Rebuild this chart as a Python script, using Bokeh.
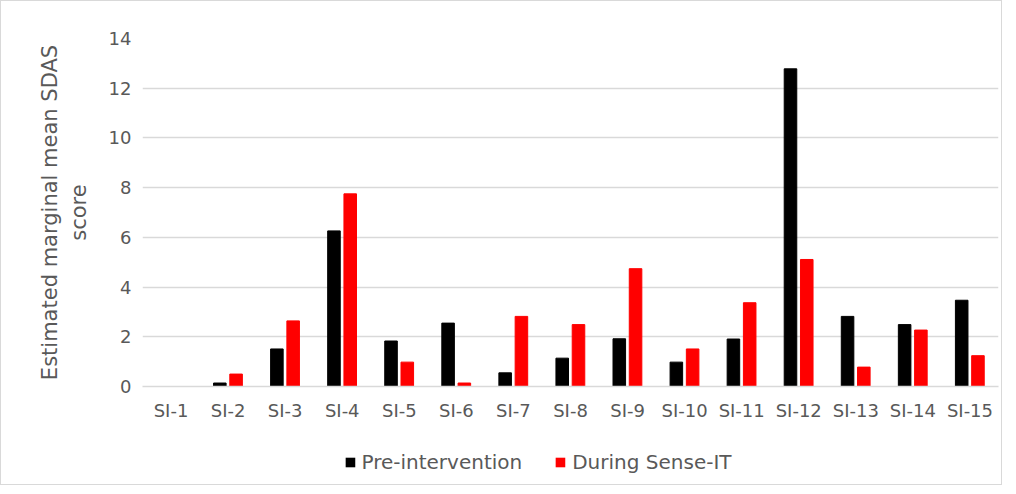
from bokeh.plotting import figure
from bokeh.layouts import column
from bokeh.models import ColumnDataSource, FactorRange, Legend, LegendItem, SingleIntervalTicker
from bokeh.transform import dodge
from bokeh.embed import file_html
from bokeh.resources import INLINE

categories = ["SI-1", "SI-2", "SI-3", "SI-4", "SI-5", "SI-6", "SI-7", "SI-8",
              "SI-9", "SI-10", "SI-11", "SI-12", "SI-13", "SI-14", "SI-15"]
pre_intervention = [0.0, 0.14, 1.51, 6.26, 1.83, 2.55, 0.55, 1.14,
                    1.92, 0.98, 1.91, 12.78, 2.82, 2.49, 3.47]
during_sense_it = [0.0, 0.50, 2.64, 7.75, 0.98, 0.14, 2.82, 2.49,
                   4.74, 1.51, 3.37, 5.11, 0.78, 2.27, 1.24]
series_names = ["Pre-intervention", "During Sense-IT"]
series_colors = ["black", "#ff0000"]
y_label = "Estimated marginal mean SDAS\nscore"

src = ColumnDataSource(dict(cat=categories, pre=pre_intervention, dur=during_sense_it))

FONT = "DejaVu Sans"
GREY = "#595959"

p = figure(frame_width=856, frame_height=348, x_range=FactorRange(factors=categories),
           y_range=(0, 14), output_backend="svg", toolbar_location=None,
           min_border_left=141, min_border_right=3, min_border_top=37, min_border_bottom=40)

p.vbar(x=dodge("cat", -0.145, range=p.x_range), top="pre", width=0.22, source=src,
       fill_color=series_colors[0], line_color=series_colors[0])
p.vbar(x=dodge("cat", 0.14, range=p.x_range), top="dur", width=0.22, source=src,
       fill_color=series_colors[1], line_color=series_colors[1])

p.outline_line_color = None
p.xgrid.grid_line_color = None
p.ygrid.grid_line_color = "#d9d9d9"
p.ygrid.grid_line_width = 1.5
p.yaxis.ticker = SingleIntervalTicker(interval=2)

for ax in (p.xaxis[0], p.yaxis[0]):
    ax.major_tick_line_color = None
    ax.minor_tick_line_color = None
    ax.major_label_text_font = FONT
    ax.major_label_text_font_size = "18px"
    ax.major_label_text_color = GREY
p.yaxis.axis_line_color = None
p.xaxis.axis_line_color = "#d9d9d9"
p.xaxis.axis_line_width = 1.5
p.xaxis.major_label_standoff = 7
p.yaxis.major_label_standoff = 5
p.yaxis.axis_label = y_label
p.yaxis.axis_label_text_font = FONT
p.yaxis.axis_label_text_font_size = "21px"
p.yaxis.axis_label_text_font_style = "normal"
p.yaxis.axis_label_text_color = GREY
p.yaxis.axis_label_standoff = 15

# legend strip below the chart (zero-size proxy renderers only feed the legend swatches)
lf = figure(width=1000, height=58, x_range=(0, 1), y_range=(0, 1), output_backend="svg",
            toolbar_location=None, min_border=0, min_border_top=14, min_border_right=68,
            x_axis_type=None, y_axis_type=None)
lf.outline_line_color = None
lf.grid.grid_line_color = None
d1 = lf.vbar(x=[0.5], top=[0], bottom=[0], width=0, fill_color=series_colors[0], line_color=None)
d2 = lf.vbar(x=[0.5], top=[0], bottom=[0], width=0, fill_color=series_colors[1], line_color=None)
legend = Legend(items=[LegendItem(label=series_names[0], renderers=[d1]),
                       LegendItem(label=series_names[1], renderers=[d2])],
                orientation="horizontal", location="center",
                label_text_font=FONT, label_text_font_size="20px", label_text_color=GREY,
                glyph_width=12, glyph_height=12, label_standoff=6, spacing=32,
                border_line_color=None, background_fill_color=None, margin=0, padding=5)
lf.add_layout(legend, "center")

layout = column(p, lf, spacing=0)
layout.styles = {"border": "1px solid #d9d9d9"}

open("out.html", "w").write(file_html(layout, INLINE))
